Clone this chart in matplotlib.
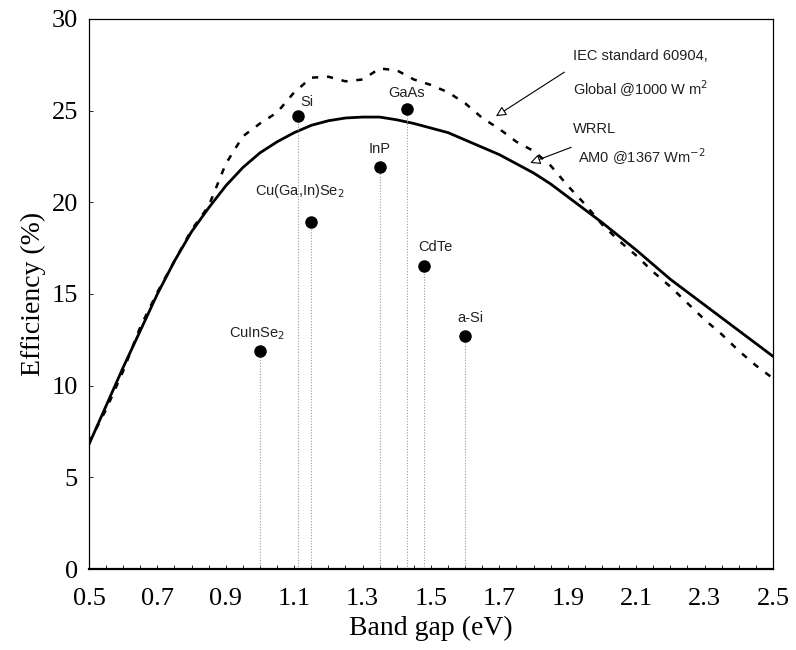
import matplotlib
matplotlib.use("Agg")
import matplotlib.pyplot as plt
from matplotlib.ticker import MultipleLocator

# Band gap grid for the two limiting-efficiency curves (eV)
gap_wrrl = [0.5, 0.55, 0.6, 0.65, 0.7, 0.75, 0.8, 0.85, 0.9, 0.95, 1.0, 1.05,
            1.1, 1.15, 1.2, 1.25, 1.3, 1.35, 1.4, 1.45, 1.5, 1.55, 1.6, 1.65,
            1.7, 1.75, 1.8, 1.85, 1.9, 1.95, 2.0, 2.05, 2.1, 2.15, 2.2, 2.25,
            2.3, 2.35, 2.4, 2.45, 2.5]
eff_wrrl = [6.8, 8.9, 11.0, 13.0, 15.0, 16.8, 18.4, 19.7, 20.9, 21.9, 22.7, 23.3,
            23.8, 24.2, 24.45, 24.6, 24.65, 24.65, 24.5, 24.3, 24.05, 23.8, 23.4, 23.0,
            22.6, 22.1, 21.6, 21.0, 20.3, 19.6, 18.9, 18.15, 17.4, 16.6, 15.8, 15.1,
            14.4, 13.7, 13.0, 12.3, 11.6]

gap_iec = [0.5, 0.55, 0.6, 0.65, 0.7, 0.75, 0.8, 0.85, 0.9, 0.95, 1.0, 1.05,
           1.1, 1.15, 1.2, 1.25, 1.3, 1.35, 1.4, 1.45, 1.5, 1.55, 1.6, 1.65,
           1.7, 1.75, 1.8, 1.85, 1.9, 1.95, 2.0, 2.05, 2.1, 2.15, 2.2, 2.25,
           2.3, 2.35, 2.4, 2.45, 2.5]
eff_iec = [6.9, 8.7, 10.8, 13.2, 15.1, 16.8, 18.5, 19.8, 22.1, 23.6, 24.3, 24.9,
           26.0, 26.8, 26.85, 26.6, 26.7, 27.3, 27.2, 26.7, 26.4, 26.0, 25.4, 24.6,
           24.0, 23.3, 22.8, 22.0, 20.9, 19.9, 18.8, 17.9, 17.1, 16.2, 15.4, 14.5,
           13.6, 12.8, 11.9, 11.1, 10.4]

# Record cell efficiencies
materials = ["CuInSe$_2$", "Si", "Cu(Ga,In)Se$_2$", "InP", "GaAs", "CdTe", "a-Si"]
mat_gap = [1.00, 1.11, 1.15, 1.35, 1.43, 1.48, 1.60]
mat_eff = [11.9, 24.7, 18.9, 21.9, 25.1, 16.5, 12.7]
# label offsets in points (dx, dy) and alignment
label_off = [(-2, 6), (2, 5), (-8, 16), (0, 8), (0, 6), (8, 9), (4, 8)]
label_ha = ["center", "left", "center", "center", "center", "center", "center"]

xtick_vals = [0.5, 0.7, 0.9, 1.1, 1.3, 1.5, 1.7, 1.9, 2.1, 2.3, 2.5]
ytick_vals = [0, 5, 10, 15, 20, 25, 30]

fig = plt.figure(figsize=(7.96, 6.5), dpi=100)
ax = fig.add_axes([0.1118, 0.1246, 0.8593, 0.8462])

ax.plot(gap_wrrl, eff_wrrl, color="black", lw=2.0)
ax.plot(gap_iec, eff_iec, color="black", lw=1.8, linestyle=(0, (2.5, 3.5)))

ax.vlines(mat_gap, 0, mat_eff, colors="#9a9a9a", linestyles=(0, (1, 1.5)), lw=0.8)
ax.plot(mat_gap, mat_eff, "o", color="black", markersize=8)
for name, g, e, off, ha in zip(materials, mat_gap, mat_eff, label_off, label_ha):
    ax.annotate(name, (g, e), xytext=off, textcoords="offset points",
                ha=ha, va="bottom", fontsize=10.5, family="Liberation Sans",
                color="#222222")

arrow = dict(arrowstyle="-|>,head_length=0.6,head_width=0.3", fc="white",
             ec="black", lw=0.8, shrinkA=0, shrinkB=0)
ax.annotate("", xy=(1.69, 24.7), xytext=(1.89, 27.1), arrowprops=arrow)
ax.annotate("", xy=(1.79, 22.15), xytext=(1.91, 23.0), arrowprops=arrow)
ax.text(1.915, 28.0, "IEC standard 60904,", fontsize=10.5,
        family="Liberation Sans", va="center", color="#222222")
ax.text(1.915, 26.2, "Global @1000 W m$^2$", fontsize=10.5,
        family="Liberation Sans", va="center", color="#222222")
ax.text(1.915, 24.0, "WRRL", fontsize=10.5,
        family="Liberation Sans", va="center", color="#222222")
ax.text(1.93, 22.5, "AM0 @1367 Wm$^{-2}$", fontsize=10.5,
        family="Liberation Sans", va="center", color="#222222")

ax.set_xlim(0.5, 2.5)
ax.set_ylim(0, 30)
ax.set_xticks(xtick_vals)
ax.set_xticklabels(["%.1f" % v for v in xtick_vals])
ax.set_yticks(ytick_vals)
ax.set_yticklabels([str(v) for v in ytick_vals])
ax.xaxis.set_minor_locator(MultipleLocator(0.05))
ax.tick_params(direction="in", which="both", length=3, width=0.6,
               top=False, right=False)
ax.tick_params(axis="both", labelsize=19)
ax.tick_params(axis="x", pad=14)
ax.tick_params(axis="y", pad=8)
for lab in ax.get_xticklabels() + ax.get_yticklabels():
    lab.set_family("Liberation Serif")

for s in ["left", "right", "top"]:
    ax.spines[s].set_linewidth(0.9)
ax.spines["bottom"].set_linewidth(1.6)

ax.set_xlabel("Band gap (eV)", fontsize=20, family="Liberation Serif", labelpad=4)
ax.set_ylabel("Efficiency (%)", fontsize=20, family="Liberation Serif", labelpad=4)

fig.savefig("out.png", dpi=100)
